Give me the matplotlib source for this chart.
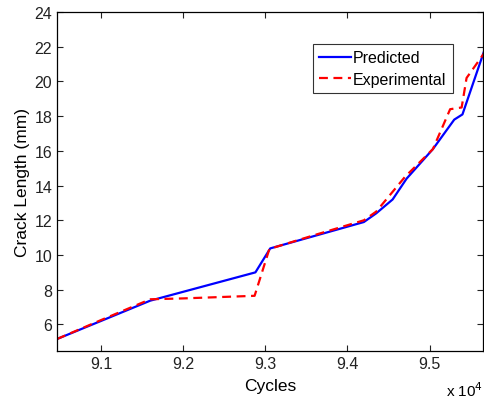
import matplotlib.pyplot as plt
from matplotlib.ticker import FuncFormatter

plt.rcParams['font.family'] = ['Liberation Sans', 'DejaVu Sans']

# crack growth data
pred_cycles = [90465, 91000, 91600, 92880, 93060, 93600, 94200, 94350, 94550,
               94720, 95040, 95300, 95400, 95660]
pred_length = [5.16, 6.2, 7.37, 9.0, 10.38, 11.1, 11.9, 12.4, 13.2,
               14.4, 16.1, 17.8, 18.1, 21.7]

exp_cycles = [90465, 91000, 91600, 92000, 92870, 93050, 93600, 94200, 94350,
              94700, 95040, 95250, 95390, 95450, 95660]
exp_length = [5.16, 6.25, 7.45, 7.5, 7.65, 10.35, 11.15, 12.0, 12.5,
              14.5, 16.1, 18.4, 18.5, 20.2, 21.6]

x_ticks = [91000, 92000, 93000, 94000, 95000]
y_ticks = [6, 8, 10, 12, 14, 16, 18, 20, 22, 24]

fig = plt.figure(figsize=(4.84, 4.02), dpi=100)
ax = fig.add_axes([57 / 484, 1 - 352 / 402, 426 / 484, 339 / 402])

ax.plot(pred_cycles, pred_length, color='blue', lw=1.6, label='Predicted')
ax.plot(exp_cycles, exp_length, color='red', lw=1.6, ls=(0, (4, 2.5)),
        label='Experimental')

ax.set_xlim(90465, 95650)
ax.set_ylim(4.47, 24)
ax.set_xticks(x_ticks)
ax.set_yticks(y_ticks)
ax.xaxis.set_major_formatter(FuncFormatter(lambda v, p: f"{v / 1e4:g}"))
ax.tick_params(direction='in', top=True, right=True, length=4, width=0.8,
               labelsize=11.5, colors='#222222')
for s in ax.spines.values():
    s.set_linewidth(0.9)

ax.set_xlabel('Cycles', fontsize=12.5, labelpad=5)
ax.set_ylabel('Crack Length (mm)', fontsize=12.5, labelpad=3)
ax.text(1.0, -0.085, r'x 10$^{4}$', transform=ax.transAxes, ha='right',
        va='top', fontsize=11)

leg = ax.legend(loc='upper left', bbox_to_anchor=(0.601, 0.906), fontsize=11.5,
                frameon=True, fancybox=False, edgecolor='black',
                handlelength=2.0, borderpad=0.4, labelspacing=0.4,
                handletextpad=0.1, borderaxespad=0)
leg.get_frame().set_linewidth(0.8)

fig.savefig('out.png', dpi=100)
